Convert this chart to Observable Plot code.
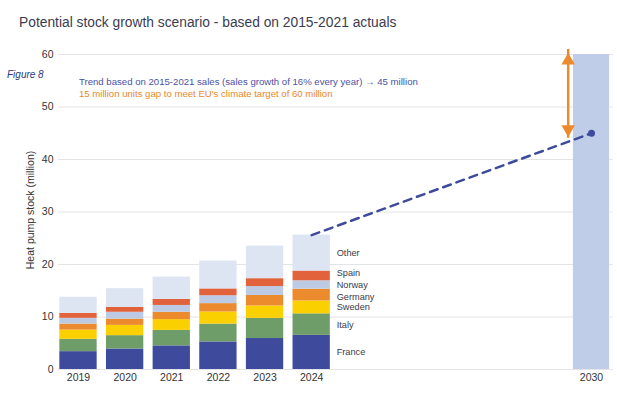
<!DOCTYPE html>
<html>
<head>
<meta charset="utf-8">
<script src="https://cdn.jsdelivr.net/npm/d3@7"></script>
<script src="https://cdn.jsdelivr.net/npm/@observablehq/plot@0.6"></script>
<style>
  html, body { margin: 0; padding: 0; background: #fff; }
  #wrap { position: relative; width: 617px; height: 393px; font-family: "Liberation Sans", Arial, sans-serif; }
  .abs { position: absolute; white-space: nowrap; line-height: 1; }
  #title { left: 19px; top: 16px; font-size: 13.8px; color: #3b3b4f; }
  #fig { left: 7px; top: 70px; font-size: 10px; font-style: italic; color: #2b3a7d; }
  #trend { left: 79px; top: 77px; font-size: 9.6px; color: #4b52a3; }
  #gap { left: 79px; top: 89px; font-size: 9.6px; color: #e8892b; }
  svg { position: absolute; left: 0; top: 0; }
</style>
</head>
<body>
<div id="wrap">
  <div id="chart"></div>
  <div class="abs" id="title">Potential stock growth scenario - based on 2015-2021 actuals</div>
  <div class="abs" id="fig">Figure 8</div>
  <div class="abs" id="trend">Trend based on 2015-2021 sales (sales growth of 16% every year) → 45 million</div>
  <div class="abs" id="gap">15 million units gap to meet EU's climate target of 60 million</div>
</div>
<script>
const years = [2019, 2020, 2021, 2022, 2023, 2024];
const countries = ["France", "Italy", "Sweden", "Germany", "Norway", "Spain", "Other"];
const colors = ["#3e4a9c", "#6f9d6a", "#fbd000", "#ec8b2e", "#bccae4", "#e1623b", "#dde5f3"];
// stock in million, per country segment
const France  = [3.4, 3.9, 4.5, 5.25, 5.9, 6.5];
const Italy   = [2.35, 2.55, 2.95, 3.4, 3.85, 4.1];
const Sweden  = [1.75, 1.95, 2.05, 2.3, 2.35, 2.45];
const Germany = [1.15, 1.2, 1.4, 1.6, 2.0, 2.25];
const Norway  = [1.1, 1.3, 1.3, 1.5, 1.7, 1.6];
const Spain   = [0.95, 0.95, 1.15, 1.3, 1.5, 1.85];
const Other   = [3.05, 3.55, 4.25, 5.3, 6.2, 6.85];
const targetYear = 2030;
const target = 60;
const trend2030 = 45;
const yTicks = [0, 10, 20, 30, 40, 50, 60];
const xTicks = [2019, 2020, 2021, 2022, 2023, 2024, 2030];
const labelNudge = {Spain: -2.5, Norway: 0, Germany: 1.5};

const series = {France, Italy, Sweden, Germany, Norway, Spain, Other};
const rows = [];
years.forEach((yr, i) => {
  let acc = 0;
  countries.forEach((c) => {
    const v = series[c][i];
    rows.push({year: yr, country: c, y1: acc, y2: acc + v});
    acc += v;
  });
});
const totals = years.map((yr, i) => ({year: yr, total: countries.reduce((s, c) => s + series[c][i], 0)}));
const lastYear = years[years.length - 1];
const labels = rows.filter(d => d.year === lastYear).map(d => ({...d, mid: (d.y1 + d.y2) / 2}));
const trendLine = [{x: lastYear, y: totals[totals.length - 1].total}, {x: targetYear, y: trend2030}];
const hw = 0.4;
const arrowX = targetYear - 0.5;

const textMarks = labels.map(d => Plot.text([d], {x: "year", y: "mid", text: "country", dx: 25, dy: labelNudge[d.country] || 0, textAnchor: "start", fill: "#3a3a4a", fontSize: 9.2}));

const chart = Plot.plot({
  width: 617,
  height: 393,
  marginLeft: 58,
  marginRight: 4,
  marginTop: 54,
  marginBottom: 24,
  style: {fontFamily: "Liberation Sans, Arial, sans-serif", fontSize: "10.5px", color: "#333", background: "transparent"},
  x: {type: "linear", domain: [2019, 2030], range: [78, 591], ticks: xTicks, tickFormat: d => String(d), tickSize: 0, tickPadding: 4, label: null},
  y: {domain: [0, 60], range: [369, 54], ticks: yTicks, tickSize: 0, tickPadding: 5, label: null},
  color: {domain: countries, range: colors},
  marks: [
    Plot.ruleY(yTicks, {stroke: "#e4e4e8", strokeWidth: 1}),
    Plot.rectY([{year: targetYear, v: target}], {x1: d => d.year - hw * 0.97, x2: d => d.year + hw * 0.97, y1: 0, y2: "v", fill: "#bfcde8"}),
    Plot.rectY(rows, {x1: d => d.year - hw, x2: d => d.year + hw, y1: "y1", y2: "y2", fill: "country"}),
    Plot.line(trendLine, {x: "x", y: "y", stroke: "#3e4a9c", strokeWidth: 2.5, strokeDasharray: "8,6"}),
    Plot.dot([{x: targetYear, y: trend2030}], {x: "x", y: "y", r: 3.5, fill: "#3e4a9c"}),
    Plot.ruleX([{x: arrowX, y1: trend2030, y2: target}], {x: "x", y1: "y1", y2: "y2", stroke: "#ec8b2e", strokeWidth: 2.5, insetTop: 5, insetBottom: 5}),
    Plot.dot([{x: arrowX, y: target}], {x: "x", y: "y", symbol: "triangle", r: 5, fill: "#ec8b2e", dy: 6}),
    Plot.dot([{x: arrowX, y: trend2030}], {x: "x", y: "y", symbol: "triangle", r: 5, fill: "#ec8b2e", rotate: 180, dy: -4}),
    ...textMarks,
    Plot.text(["Heat pump stock (million)"], {frameAnchor: "left", textAnchor: "middle", dx: -28, dy: -2, rotate: -90, fill: "#333", fontSize: 10.5}),
    Plot.axisY({ticks: yTicks, tickSize: 0, tickPadding: 5, label: null}),
    Plot.axisX({ticks: xTicks, tickFormat: d => String(d), tickSize: 0, tickPadding: 4, label: null})
  ]
});
document.getElementById("chart").appendChild(chart);
</script>
</body>
</html>
